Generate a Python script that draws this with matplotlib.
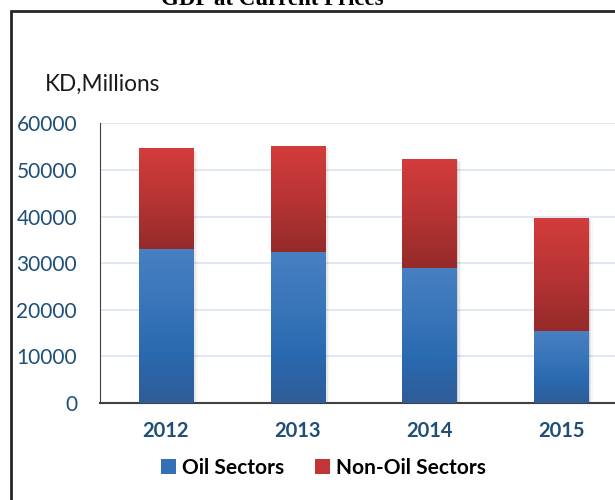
import numpy as np
import matplotlib
matplotlib.use("Agg")
import matplotlib.pyplot as plt
from matplotlib.colors import LinearSegmentedColormap
from matplotlib.patches import Rectangle, Patch

# GDP at current prices, KD millions
years = ["2012", "2013", "2014", "2015"]
oil = [33000, 32400, 29000, 15400]
non_oil = [21500, 22750, 23350, 24100]
series_names = ["Oil Sectors", "Non-Oil Sectors"]

plt.rcParams['font.family'] = ['Lato', 'DejaVu Sans']

fig = plt.figure(figsize=(6.15, 5), dpi=100)
ax = fig.add_axes([0.1626, 0.194, 0.857, 0.559])

blue_cm = LinearSegmentedColormap.from_list("blue_grad", ["#2F5C98", "#2A6AB0", "#3A76BA", "#4880C2"])
red_cm = LinearSegmentedColormap.from_list("red_grad", ["#952A2A", "#B83434", "#D33C3C"])
grad = np.linspace(0, 1, 256).reshape(-1, 1)

width = 0.41
x = np.arange(len(years))
for i in range(len(years)):
    total = oil[i] + non_oil[i]
    # soft drop shadow on the right side
    for k, a in enumerate([0.10, 0.06, 0.03]):
        off = 0.012 * (k + 1)
        ax.add_patch(Rectangle((x[i] - width / 2 + off, 0), width, total - 150 * (k + 1),
                               facecolor="black", alpha=a, lw=0, zorder=2))
    ax.imshow(grad, extent=(x[i] - width / 2, x[i] + width / 2, 0, oil[i]),
              origin="lower", aspect="auto", cmap=blue_cm, zorder=3)
    ax.imshow(grad, extent=(x[i] - width / 2, x[i] + width / 2, oil[i], total),
              origin="lower", aspect="auto", cmap=red_cm, zorder=3)

ax.set_xlim(-0.5, len(years) - 0.5)
ax.set_ylim(0, 60000)
ax.set_yticks(range(0, 60001, 10000))
ax.set_xticks(x)
ax.set_xticklabels(years, fontsize=14.5, fontweight="bold", color="#1F4E79")
ax.tick_params(axis="y", labelsize=15, labelcolor="#1F4E79", length=0, pad=16.5)
ax.tick_params(axis="x", length=0, pad=13)
ax.grid(axis="y", color="#DCE6F2", lw=1.3, zorder=0)
ax.set_axisbelow(True)
for s in ["top", "right"]:
    ax.spines[s].set_visible(False)
ax.spines["left"].set_color("#404040")
ax.spines["bottom"].set_color("#404040")
ax.spines["bottom"].set_linewidth(1.5)

fig.text(0.073, 0.818, "KD,Millions", fontsize=16.3, color="#1A1A1A", ha="left", va="baseline")
fig.text(0.442, 0.99, "GDP at Current Prices", fontsize=16.5, fontweight="bold",
         family="Liberation Serif", ha="center", va="baseline")

# outer frame
fig.patches.append(Rectangle((0.018, -0.1), 1.5, 0.978 + 0.1, transform=fig.transFigure,
                             fill=False, edgecolor="#262626", lw=2, zorder=0))

handles = [Patch(facecolor="#3470B5"), Patch(facecolor="#C03636")]
leg = fig.legend(handles, series_names, loc="center", bbox_to_anchor=(0.526, 0.064), ncol=2,
                 frameon=False, handlelength=0.7, handleheight=0.7, handletextpad=0.3,
                 columnspacing=1.5, prop={"size": 15, "weight": "bold"})

fig.savefig("out.png", dpi=100)
